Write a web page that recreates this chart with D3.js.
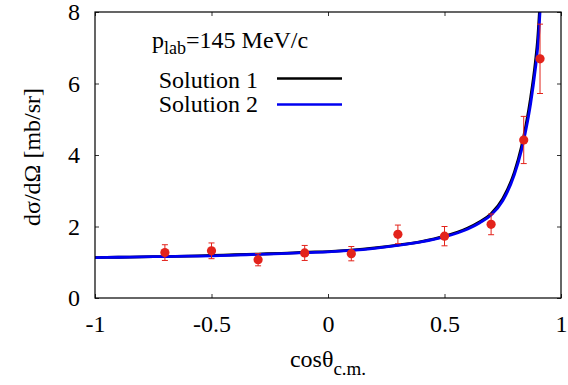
<!DOCTYPE html>
<html>
<head>
<meta charset="utf-8">
<script src="https://cdn.jsdelivr.net/npm/d3@7"></script>
<style>
  body { margin: 0; background: #fff; }
</style>
</head>
<body>
<svg id="chart" width="568" height="385"></svg>
<script>
// curve samples
curveX = [-1, -0.9, -0.8, -0.7, -0.6, -0.5, -0.4, -0.3, -0.2, -0.1, 0, 0.1, 0.2, 0.3, 0.4, 0.5, 0.6, 0.65, 0.7, 0.75, 0.8, 0.83, 0.85, 0.87, 0.89, 0.9, 0.91, 0.92]
solution1 = [1.13, 1.14, 1.15, 1.16, 1.17, 1.19, 1.21, 1.23, 1.25, 1.28, 1.30, 1.34, 1.40, 1.48, 1.58, 1.73, 1.96, 2.13, 2.36, 2.78, 3.52, 4.22, 4.85, 5.62, 6.6, 7.25, 8.3, 9.6]
solution2 = [1.13, 1.14, 1.15, 1.16, 1.17, 1.18, 1.20, 1.22, 1.24, 1.27, 1.29, 1.33, 1.39, 1.47, 1.57, 1.71, 1.93, 2.10, 2.32, 2.72, 3.45, 4.12, 4.72, 5.45, 6.4, 7.0, 8.0, 9.3]

// measured points
dataX = [-0.7, -0.5, -0.3, -0.1, 0.1, 0.3, 0.5, 0.7, 0.84, 0.91]
dataY = [1.27, 1.32, 1.07, 1.26, 1.24, 1.78, 1.73, 2.06, 4.42, 6.69]
dataErr = [0.22, 0.22, 0.17, 0.21, 0.20, 0.26, 0.27, 0.29, 0.66, 0.97]

xTicks = [-1, -0.5, 0, 0.5, 1]
yTicks = [0, 2, 4, 6, 8]

serif = "Liberation Serif"

svg = d3.select("#chart")
margin = {left: 95, right: 7, top: 12, bottom: 87}
width = +svg.attr("width")
height = +svg.attr("height")

x = d3.scaleLinear().domain([-1, 1]).range([margin.left, width - margin.right])
y = d3.scaleLinear().domain([0, 8]).range([height - margin.bottom, margin.top])

svg.append("clipPath").attr("id", "plotclip")
  .append("rect")
  .attr("x", x(-1)).attr("y", y(8))
  .attr("width", x(1) - x(-1)).attr("height", y(0) - y(8))

function styleAxis(g) {
  g.attr("font-family", serif).attr("font-size", 24)
  g.select(".domain").remove()
  g.selectAll(".tick line").attr("stroke", "#333")
  g.selectAll(".tick text").attr("fill", "#000")
}

fmt = d => String(d)

// bottom / left axes with labels, ticks pointing in
svg.append("g")
  .attr("transform", `translate(0,${y(0)})`)
  .call(d3.axisBottom(x).tickValues(xTicks).tickFormat(fmt).tickSize(-4).tickPadding(17))
  .call(styleAxis)

svg.append("g")
  .attr("transform", `translate(${x(-1)},0)`)
  .call(d3.axisLeft(y).tickValues(yTicks).tickFormat(fmt).tickSize(-4).tickPadding(15))
  .call(styleAxis)

// mirror ticks on top and right
svg.append("g")
  .attr("transform", `translate(0,${y(8)})`)
  .call(d3.axisTop(x).tickValues(xTicks).tickFormat("").tickSize(-4))
  .call(styleAxis)

svg.append("g")
  .attr("transform", `translate(${x(1)},0)`)
  .call(d3.axisRight(y).tickValues(yTicks).tickFormat("").tickSize(-4))
  .call(styleAxis)

// curves
function drawCurve(vals, color) {
  line = d3.line()
    .x((d, i) => x(curveX[i]))
    .y(d => y(d))
    .curve(d3.curveMonotoneX)
  svg.append("path")
    .datum(vals)
    .attr("clip-path", "url(#plotclip)")
    .attr("fill", "none")
    .attr("stroke", color)
    .attr("stroke-width", 2.8)
    .attr("d", line)
}
drawCurve(solution1, "#000")
drawCurve(solution2, "#0000f0")

// data with error bars
red = "#e3231b"
pts = svg.append("g").attr("clip-path", "url(#plotclip)")
dataX.forEach((dx, i) => {
  lo = y(dataY[i] - dataErr[i])
  hi = y(dataY[i] + dataErr[i])
  cx = x(dx)
  pts.append("line").attr("x1", cx).attr("x2", cx).attr("y1", lo).attr("y2", hi)
    .attr("stroke", red).attr("stroke-width", 1)
  pts.append("line").attr("x1", cx - 3).attr("x2", cx + 3).attr("y1", lo).attr("y2", lo)
    .attr("stroke", red).attr("stroke-width", 1)
  pts.append("line").attr("x1", cx - 3).attr("x2", cx + 3).attr("y1", hi).attr("y2", hi)
    .attr("stroke", red).attr("stroke-width", 1)
  pts.append("circle").attr("cx", cx).attr("cy", y(dataY[i])).attr("r", 4.6)
    .attr("fill", red)
})

// frame
svg.append("rect")
  .attr("x", x(-1)).attr("y", y(8))
  .attr("width", x(1) - x(-1)).attr("height", y(0) - y(8))
  .attr("fill", "none").attr("stroke", "#000").attr("stroke-width", 1.2)

function addText(px, py, size) {
  return svg.append("text")
    .attr("x", px).attr("y", py)
    .attr("font-family", serif)
    .attr("font-size", size)
    .attr("fill", "#000")
}

// axis titles
addText(0, 0, 24)
  .attr("transform", "translate(40,157) rotate(-90)")
  .attr("text-anchor", "middle")
  .text("dσ/dΩ [mb/sr]")

xlab = addText(x(0), 367, 24).attr("text-anchor", "middle")
xlab.append("tspan").text("cosθ")
xlab.append("tspan").attr("dy", 8).attr("font-size", 19).text("c.m.")

// legend
title = addText(152, 48, 24)
title.append("tspan").text("p")
title.append("tspan").attr("dy", 6).attr("font-size", 18).text("lab")
title.append("tspan").attr("dy", -6).text("=145 MeV/c")

legendNames = ["Solution 1", "Solution 2"]
legendColors = ["#000", "#0000f0"]
legendNames.forEach((name, i) => {
  by = 88 + i * 24
  addText(258, by, 24)
    .attr("text-anchor", "end")
    .text(name)
  svg.append("line")
    .attr("x1", 277).attr("x2", 342)
    .attr("y1", by - 9.5 + i * 2).attr("y2", by - 9.5 + i * 2)
    .attr("stroke", legendColors[i]).attr("stroke-width", 2.5)
})
</script>
</body>
</html>
